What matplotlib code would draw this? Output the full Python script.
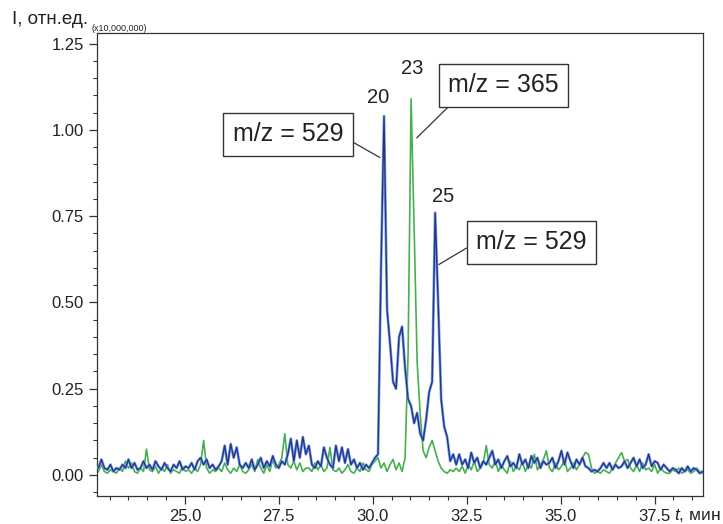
import numpy as np
import matplotlib
matplotlib.use("Agg")
import matplotlib.pyplot as plt
from matplotlib.ticker import MultipleLocator, FixedLocator

plt.rcParams['font.family'] = ['Liberation Sans', 'DejaVu Sans']
plt.rcParams['mathtext.fontset'] = 'custom'
plt.rcParams['mathtext.it'] = 'Liberation Sans:italic'
plt.rcParams['mathtext.rm'] = 'Liberation Sans'

# time grid of the chromatogram (min)
t_start = 22.70
t_step = 0.08

# m/z = 529 trace (x10,000,000)
blue = [
    0.02, 0.045, 0.02, 0.015, 0.03, 0.01, 0.02, 0.015, 0.03, 0.02,
    0.045, 0.02, 0.035, 0.015, 0.02, 0.04, 0.02, 0.03, 0.015, 0.04,
    0.025, 0.015, 0.035, 0.02, 0.01, 0.03, 0.02, 0.04, 0.015, 0.025,
    0.02, 0.035, 0.015, 0.04, 0.05, 0.03, 0.045, 0.02, 0.03, 0.015,
    0.025, 0.04, 0.085, 0.03, 0.09, 0.05, 0.08, 0.03, 0.02, 0.035,
    0.02, 0.045, 0.015, 0.03, 0.05, 0.02, 0.04, 0.025, 0.055, 0.03,
    0.02, 0.04, 0.03, 0.06, 0.105, 0.04, 0.10, 0.05, 0.11, 0.06,
    0.085, 0.03, 0.02, 0.04, 0.025, 0.08, 0.05, 0.03, 0.02, 0.085,
    0.04, 0.08, 0.035, 0.075, 0.03, 0.045, 0.02, 0.035, 0.015, 0.03,
    0.02, 0.035, 0.05, 0.06, 0.60, 1.04, 0.48, 0.38, 0.27, 0.25,
    0.40, 0.43, 0.31, 0.22, 0.20, 0.15, 0.18, 0.12, 0.10, 0.16,
    0.24, 0.27, 0.76, 0.50, 0.22, 0.14, 0.11, 0.04, 0.06, 0.03,
    0.06, 0.03, 0.045, 0.02, 0.065, 0.035, 0.05, 0.02, 0.04, 0.03,
    0.05, 0.07, 0.03, 0.045, 0.02, 0.04, 0.055, 0.025, 0.035, 0.02,
    0.06, 0.03, 0.045, 0.02, 0.055, 0.035, 0.05, 0.02, 0.04, 0.03,
    0.035, 0.05, 0.02, 0.04, 0.07, 0.03, 0.065, 0.04, 0.02, 0.045,
    0.03, 0.05, 0.025, 0.02, 0.01, 0.015, 0.01, 0.02, 0.035, 0.02,
    0.035, 0.015, 0.03, 0.02, 0.025, 0.04, 0.02, 0.035, 0.05, 0.025,
    0.045, 0.02, 0.03, 0.06, 0.025, 0.04, 0.035, 0.015, 0.03, 0.02,
    0.01, 0.02, 0.015, 0.005, 0.02, 0.01, 0.025, 0.01, 0.02, 0.015,
    0.005, 0.01,
]

# m/z = 365 trace
green = [
    0.01, 0.03, 0.01, 0.005, 0.015, 0.01, 0.005, 0.02, 0.01, 0.04,
    0.02, 0.035, 0.01, 0.005, 0.02, 0.01, 0.075, 0.015, 0.01, 0.025,
    0.005, 0.02, 0.01, 0.03, 0.005, 0.015, 0.01, 0.005, 0.025, 0.01,
    0.015, 0.005, 0.02, 0.01, 0.03, 0.10, 0.02, 0.005, 0.015, 0.01,
    0.02, 0.01, 0.035, 0.015, 0.005, 0.02, 0.01, 0.03, 0.01, 0.005,
    0.015, 0.03, 0.01, 0.045, 0.02, 0.005, 0.03, 0.01, 0.045, 0.02,
    0.03, 0.05, 0.12, 0.03, 0.02, 0.04, 0.015, 0.035, 0.01, 0.02,
    0.02, 0.01, 0.035, 0.015, 0.03, 0.01, 0.02, 0.08, 0.015, 0.01,
    0.02, 0.005, 0.015, 0.03, 0.01, 0.005, 0.02, 0.01, 0.035, 0.015,
    0.01, 0.03, 0.04, 0.05, 0.02, 0.035, 0.01, 0.03, 0.045, 0.015,
    0.035, 0.01, 0.05, 0.35, 1.09, 0.72, 0.33, 0.18, 0.07, 0.05,
    0.08, 0.10, 0.07, 0.04, 0.02, 0.01, 0.005, 0.015, 0.01, 0.02,
    0.01, 0.025, 0.005, 0.03, 0.015, 0.04, 0.01, 0.02, 0.035, 0.085,
    0.03, 0.02, 0.045, 0.01, 0.03, 0.015, 0.005, 0.04, 0.01, 0.025,
    0.015, 0.04, 0.01, 0.03, 0.02, 0.06, 0.015, 0.03, 0.045, 0.07,
    0.02, 0.01, 0.035, 0.015, 0.025, 0.045, 0.01, 0.02, 0.035, 0.015,
    0.03, 0.05, 0.065, 0.06, 0.02, 0.005, 0.01, 0.005, 0.015, 0.01,
    0.005, 0.02, 0.035, 0.05, 0.065, 0.04, 0.045, 0.02, 0.01, 0.03,
    0.01, 0.035, 0.015, 0.02, 0.01, 0.03, 0.005, 0.02, 0.01, 0.005,
    0.005, 0.015, 0.01, 0.02, 0.005, 0.01, 0.015, 0.005, 0.01, 0.02,
    0.01, 0.005,
]

# peak labels: (text, time, height)
peak_labels = [("20", 30.13, 1.093), ("23", 31.06, 1.177), ("25", 31.86, 0.806)]

# callout boxes: (text, box centre x, y, target x, y, arrow start on box)
callouts = [
    ("m/z = 529", 27.74, 0.988, 30.19, 0.92, (1.0, 0.4)),
    ("m/z = 365", 33.48, 1.13, 31.17, 0.977, (0.09, 0.0)),
    ("m/z = 529", 34.23, 0.675, 31.76, 0.61, (0.0, 0.5)),
]

t = t_start + t_step * np.arange(len(blue))

fig = plt.figure(figsize=(7.23, 5.24), dpi=100)
ax = fig.add_axes([0.134, 0.0534, 0.838, 0.8836])

ax.plot(t, green, color='#46b04f', lw=1.2, zorder=2)
ax.plot(t, blue, color='#6b9be0', lw=2.0, zorder=3, alpha=0.9)
ax.plot(t, blue, color='#27348b', lw=1.0, zorder=4)

ax.set_xlim(22.66, 38.78)
ax.set_ylim(-0.061, 1.281)

ax.xaxis.set_major_locator(FixedLocator([25.0, 27.5, 30.0, 32.5, 35.0, 37.5]))
ax.xaxis.set_minor_locator(MultipleLocator(0.5))
ax.yaxis.set_major_locator(FixedLocator([0, 0.25, 0.5, 0.75, 1.0, 1.25]))
ax.yaxis.set_minor_locator(MultipleLocator(0.05))
ax.xaxis.set_major_formatter(plt.FormatStrFormatter('%.1f'))
ax.yaxis.set_major_formatter(plt.FormatStrFormatter('%.2f'))
ax.tick_params(which='major', length=6, width=0.9, color='#333333',
               labelsize=12, labelcolor='#222222', direction='out')
ax.tick_params(which='minor', length=3, width=0.8, color='#333333', direction='out')
ax.tick_params(axis='x', pad=3)
for sp in ax.spines.values():
    sp.set_color('#333333')
    sp.set_linewidth(0.9)

for txt, x, y in peak_labels:
    ax.text(x, y, txt, fontsize=14.5, ha='center', va='center', color='#222222')

for txt, bx, by, px, py, rel in callouts:
    ax.annotate(txt, xy=(px, py), xytext=(bx, by), fontsize=18, ha='center',
                va='center', color='#222222',
                bbox=dict(boxstyle='square,pad=0.38', fc='white', ec='#333333', lw=1.0),
                arrowprops=dict(arrowstyle='-', color='#333333', lw=0.9, relpos=rel,
                                shrinkA=0, shrinkB=0),
                zorder=6)

fig.text(12 / 723, 1 - 24 / 524, 'I, отн.ед.', fontsize=13.5, color='#222222',
         ha='left', va='baseline')
fig.text(92 / 723, 1 - 31 / 524, '(x10,000,000)', fontsize=6.5, color='#222222',
         ha='left', va='baseline')
fig.text(721 / 723, 1 - 515 / 524, r'$t$, мин', fontsize=12.5,
         color='#222222', ha='right', va='center')

fig.savefig('out.png', dpi=100)
